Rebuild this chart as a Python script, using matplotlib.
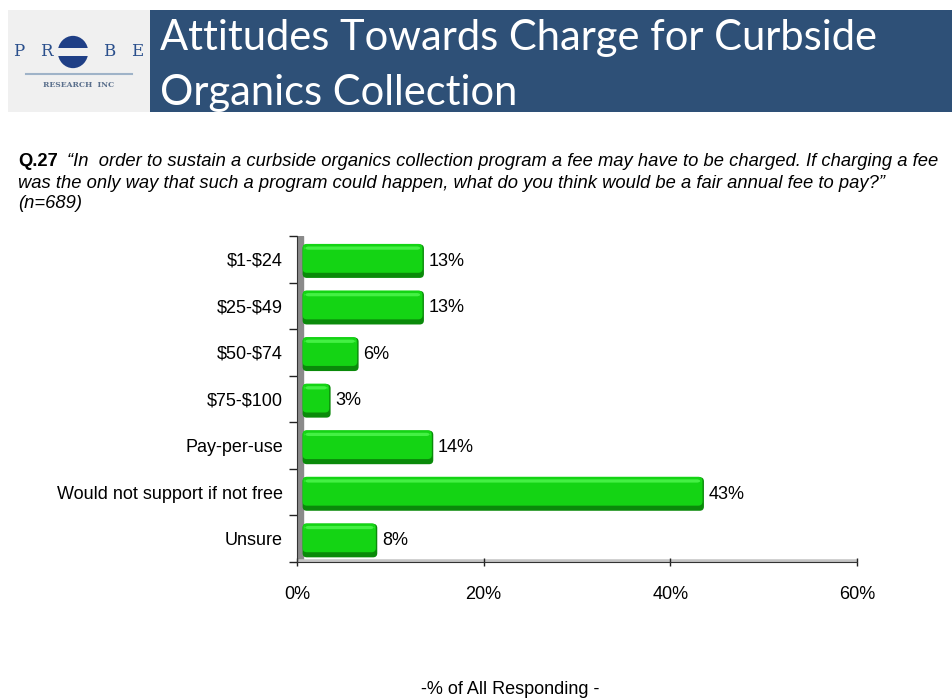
import numpy as np
import matplotlib
matplotlib.use('Agg')
import matplotlib.pyplot as plt
from matplotlib.patches import Rectangle, Circle, FancyBboxPatch

categories = [r'\$1-\$24', r'\$25-\$49', r'\$50-\$74', r'\$75-\$100', 'Pay-per-use',
              'Would not support if not free', 'Unsure']
values = [13, 13, 6, 3, 14, 43, 8]
value_labels = ['13%', '13%', '6%', '3%', '14%', '43%', '8%']
xticks = [0, 20, 40, 60]
xtick_labels = ['0%', '20%', '40%', '60%']

title_1 = 'Attitudes Towards Charge for Curbside'
title_2 = 'Organics Collection'
q_num = 'Q.27'
q_line1 = '\u201cIn  order to sustain a curbside organics collection program a fee may have to be charged. If charging a fee'
q_line2 = 'was the only way that such a program could happen, what do you think would be a fair annual fee to pay?\u201d'
q_line3 = '(n=689)'
xlabel = '-% of All Responding -'

plt.rcParams['font.family'] = ['Liberation Sans', 'DejaVu Sans']

W, H = 952, 700
fig = plt.figure(figsize=(W / 100, H / 100), dpi=100)


def fx(px):
    return px / W


def fy(py):
    return 1 - py / H


# header
fig.patches.append(Rectangle((fx(8), fy(112)), fx(142), 102 / H, transform=fig.transFigure,
                             facecolor='#f0f0f0', edgecolor='none', zorder=0))
fig.patches.append(Rectangle((fx(150), fy(112)), fx(802), 102 / H, transform=fig.transFigure,
                             facecolor='#2e5077', edgecolor='none', zorder=0))
fig.text(fx(160), fy(38), title_1, color='white', fontsize=30, family='Lato',
         va='center', ha='left')
fig.text(fx(160), fy(93), title_2, color='white', fontsize=30, family='Lato',
         va='center', ha='left')

# logo
logo_blue = '#2a4f8c'
fig.text(fx(14), fy(52), 'P   R', color=logo_blue, fontsize=12, family='DejaVu Serif',
         va='center', ha='left')
fig.text(fx(104), fy(52), 'B   E', color=logo_blue, fontsize=12, family='DejaVu Serif',
         va='center', ha='left')
lax = fig.add_axes([fx(57), fy(69), fx(32), 34 / H], zorder=5)
lax.set_xlim(-1, 1)
lax.set_ylim(-1, 1)
lax.axis('off')
lax.add_patch(Circle((0, 0), 0.95, facecolor='#1f3f86', edgecolor='none'))
lax.add_patch(Rectangle((-1, -0.25), 2, 0.5, facecolor='#f0f0f0', edgecolor='none'))
fig.lines.append(plt.Line2D([fx(26), fx(132)], [fy(74), fy(74)], transform=fig.transFigure,
                            color='#9fb3c8', lw=1.5))
fig.text(fx(79), fy(85), 'RESEARCH  INC', color='#5a6f8c', fontsize=5.5, family='DejaVu Serif',
         va='center', ha='center', weight='bold')

# question
fs_q = 13.2
fig.text(fx(18), fy(161), q_num, fontsize=fs_q, weight='bold', va='center', ha='left')
fig.text(fx(67), fy(161), q_line1, fontsize=fs_q, style='italic', va='center', ha='left')
fig.text(fx(18), fy(183), q_line2, fontsize=fs_q, style='italic', va='center', ha='left')
fig.text(fx(18), fy(204), q_line3, fontsize=fs_q, style='italic', va='center', ha='left')

# chart
ax = fig.add_axes([fx(297), fy(562), fx(560), 326 / H])
y = np.arange(len(categories))
wall = 0.6
ax.set_xlim(0, 60)
ax.set_ylim(len(categories) - 0.5, -0.5)

# 3d-ish wall and floor
ax.axvspan(0, wall, color='#8a8a8a', zorder=1)
ax.axhline(len(categories) - 0.5, color='#c4c4c4', lw=4, zorder=1)

vals = np.array(values)
layers = [
    (ax.barh(y + 0.04, vals, left=wall, height=0.72), '#0a8a0a', 2),
    (ax.barh(y - 0.02, vals - 0.15, left=wall, height=0.62), '#14d414', 3),
    (ax.barh(y - 0.24, vals - 0.5, left=wall + 0.2, height=0.07), '#44f044', 4),
]
for bars, col, z in layers:
    for b in bars:
        b.set_visible(False)
        rb = FancyBboxPatch((b.get_x(), b.get_y()), b.get_width(), b.get_height(),
                            boxstyle='round,pad=0,rounding_size=0.45', mutation_aspect=0.2,
                            facecolor=col, edgecolor='none', zorder=z)
        ax.add_patch(rb)

for yi, v, lab in zip(y, vals, value_labels):
    ax.text(v + wall + 0.5, yi + 0.04, lab, va='center', ha='left', fontsize=13)

ax.set_yticks(y)
ax.set_yticklabels(categories, fontsize=13)
ax.set_yticks(np.arange(-0.5, len(categories)), minor=True)
ax.tick_params(axis='y', which='major', length=0, pad=10)
ax.tick_params(axis='y', which='minor', length=6, width=1, color='#222222', direction='out')

ax.set_xticks(xticks)
ax.set_xticklabels(xtick_labels, fontsize=13)
ax.tick_params(axis='x', length=6, width=1, direction='inout', pad=14, color='#222222')

for s in ['top', 'right']:
    ax.spines[s].set_visible(False)
ax.spines['left'].set_color('#333333')
ax.spines['bottom'].set_color('#333333')

fig.text(fx(510), fy(690), xlabel, fontsize=13, ha='center', va='center')

fig.savefig('out.png', dpi=100)
